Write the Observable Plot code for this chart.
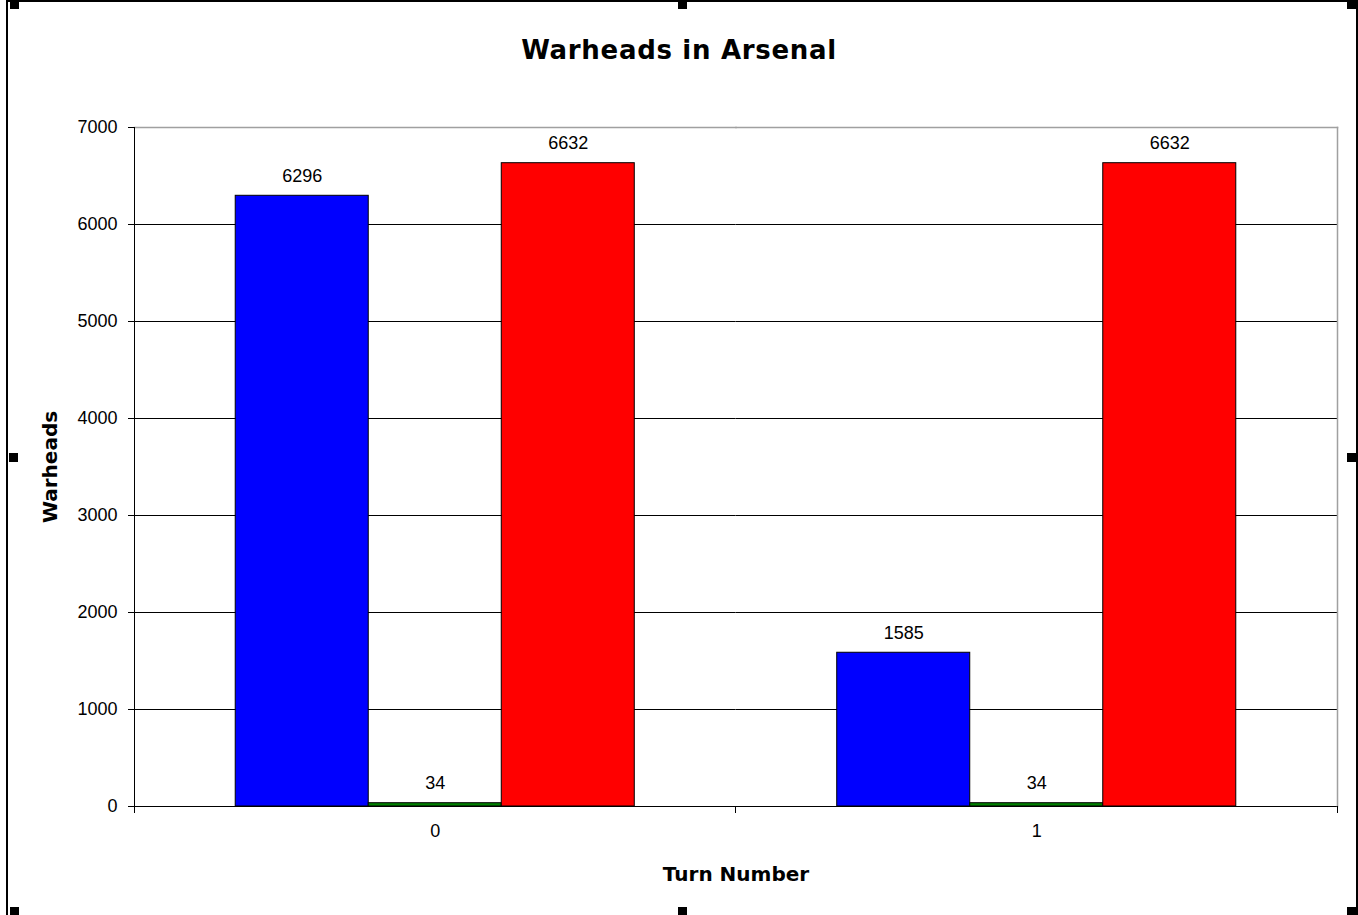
<!DOCTYPE html>
<html>
<head>
<meta charset="utf-8">
<script src="https://cdn.jsdelivr.net/npm/d3@7"></script>
<script src="https://cdn.jsdelivr.net/npm/@observablehq/plot@0.6"></script>
<style>
  html, body { margin: 0; padding: 0; background: #ffffff; }
  #page { position: relative; width: 1358px; height: 915px; overflow: hidden; background: #ffffff; }
  #border { position: absolute; left: 6px; top: 0; width: 1348px; height: 930px;
            border-left: 2px solid #000; border-top: 2px solid #000; border-right: 2px solid #000; }
  .handle { position: absolute; width: 9px; height: 9px; background: #000; }
  #title { position: absolute; left: 0; top: 35px; width: 1358px; text-align: center;
           font-family: "DejaVu Sans", sans-serif; font-weight: bold; font-size: 26px;
           line-height: 30px; letter-spacing: 0.7px; color: #000; }
  #chart { position: absolute; left: 0; top: 80px; }
</style>
</head>
<body>
<div id="page">
  <div id="border"></div>
  <div id="title">Warheads in Arsenal</div>
  <div id="chart"></div>
</div>
<script>
// ---- data ----
const turns = ["0", "1"];
const seriesNames = ["Series 1", "Series 2", "Series 3"];
const series1 = [6296, 1585];
const series2 = [34, 34];
const series3 = [6632, 6632];
const seriesColors = ["#0000ff", "#008000", "#ff0000"];
const yTicks = [0, 1000, 2000, 3000, 4000, 5000, 6000, 7000];
const yLabel = "Warheads";
const xLabel = "Turn Number";

const seriesValues = [series1, series2, series3];
const table = turns.flatMap((t, i) =>
  seriesNames.map((s, j) => ({turn: t, series: s, value: seriesValues[j][i]}))
);

// ticks at the category boundaries along the x axis (drawn in each facet)
function edgeTicks(index, scales, values, dimensions) {
  const {marginLeft, marginRight, marginBottom, width, height} = dimensions;
  const g = d3.create("svg:g");
  const y0 = height - marginBottom;
  for (const x of [marginLeft, width - marginRight]) {
    g.append("line").attr("x1", x).attr("x2", x).attr("y1", y0).attr("y2", y0 + 7)
      .attr("stroke", "#000").attr("stroke-width", 1).attr("shape-rendering", "crispEdges");
  }
  return g.node();
}

const tickFont = "'Liberation Sans', Arial, sans-serif";

const chart = Plot.plot({
  width: 1358,
  height: 830,
  marginLeft: 134,
  marginRight: 21,
  marginTop: 47,
  marginBottom: 104,
  style: {fontFamily: tickFont, fontSize: "18px", background: "transparent", overflow: "visible", color: "#000"},
  fx: {domain: turns, padding: 0, round: false},
  x: {domain: seriesNames, paddingInner: 0, paddingOuter: 0.761, round: false, axis: null},
  y: {domain: [0, 7000]},
  color: {domain: seriesNames, range: seriesColors},
  marks: [
    Plot.ruleY(yTicks.slice(0, -1), {stroke: "#000", strokeWidth: 1}),
    Plot.frame({anchor: "top", stroke: "#a0a0a0", strokeWidth: 1.5}),
    Plot.frame({anchor: "right", facetAnchor: "right", stroke: "#a0a0a0", strokeWidth: 1.5}),
    Plot.frame({anchor: "left", facetAnchor: "left", stroke: "#000", strokeWidth: 1}),
    edgeTicks,
    Plot.barY(table, {fx: "turn", x: "series", y: "value", fill: "series", stroke: "#000", strokeWidth: 1}),
    Plot.text(table, {fx: "turn", x: "series", y: "value", text: d => String(d.value), dy: -20,
                      fontSize: 18, fontFamily: tickFont, fill: "#000"}),
    Plot.axisY({ticks: yTicks, tickFormat: d => String(d), tickSize: 6, tickPadding: 11, label: null,
                fontSize: 18, fontFamily: tickFont, stroke: "#000"}),
    Plot.axisFx({anchor: "bottom", tickSize: 0, tickPadding: 18, label: null, fontSize: 18, fontFamily: tickFont}),
    Plot.text([yLabel], {text: d => d, frameAnchor: "left", facetAnchor: "left", rotate: -90, dx: -84,
                         textAnchor: "middle", lineAnchor: "middle",
                         fontSize: 20, fontWeight: "bold", fontFamily: "'DejaVu Sans', sans-serif", fill: "#000"}),
    Plot.text([xLabel], {text: d => d, frameAnchor: "bottom-right", facetAnchor: "left", textAnchor: "middle",
                         lineAnchor: "middle", dy: 68,
                         fontSize: 20, fontWeight: "bold", fontFamily: "'DejaVu Sans', sans-serif", fill: "#000"})
  ]
});
document.getElementById("chart").appendChild(chart);

// selection handles
const handles = [[10, 0], [678, 0], [1347, 0], [9, 453], [1347, 453], [10, 907], [678, 907], [1347, 907]];
const page = document.getElementById("page");
for (const [l, t] of handles) {
  const h = document.createElement("div");
  h.className = "handle";
  h.style.left = l + "px";
  h.style.top = t + "px";
  page.appendChild(h);
}
</script>
</body>
</html>
